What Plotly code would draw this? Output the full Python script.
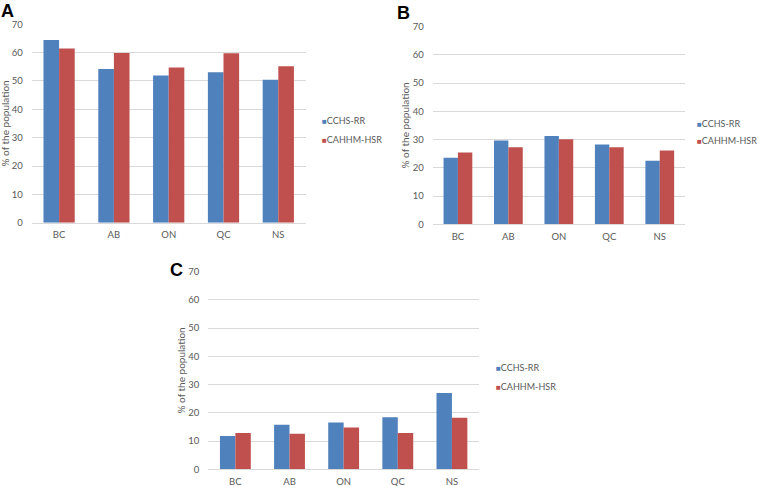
import plotly.graph_objects as go

W, H = 759, 486

provinces = ["BC", "AB", "ON", "QC", "NS"]
series_names = ["CCHS-RR", "CAHHM-HSR"]
colors = ["#4F81BD", "#C0504D"]

# panel A
a_cchs = [64.5, 54.2, 51.9, 53.1, 50.4]
a_cahhm = [61.5, 59.9, 54.8, 59.8, 55.2]
# panel B
b_cchs = [23.6, 29.7, 31.3, 28.3, 22.5]
b_cahhm = [25.4, 27.3, 30.1, 27.3, 26.1]
# panel C
c_cchs = [11.8, 15.8, 16.6, 18.4, 27.0]
c_cahhm = [12.9, 12.6, 14.8, 12.9, 18.3]

y_ticks = [0, 10, 20, 30, 40, 50, 60, 70]

FONT = "Lato, sans-serif"


def px_x(v):
    return v / W


def px_y(v):
    return 1 - v / H


# pixel boxes of each plot area: left, right, top, bottom
panels = [
    dict(label="A", data=[a_cchs, a_cahhm], box=(31.7, 305.7, 24.3, 222.7),
         lab=(7.5, 0), ytitle=5, leg=(320, 120.7, 139)),
    dict(label="B", data=[b_cchs, b_cahhm], box=(432.7, 685, 26.7, 224.3),
         lab=(404, 2), ytitle=405, leg=(695, 123.3, 140.7)),
    dict(label="C", data=[c_cchs, c_cahhm], box=(208.3, 479, 271.7, 469.3),
         lab=(176.5, 259), ytitle=180, leg=(493.5, 367.7, 386)),
]

fig = go.Figure()
layout = dict(width=W, height=H, margin=dict(l=0, r=0, t=0, b=0),
              paper_bgcolor="white", plot_bgcolor="white", showlegend=False,
              barmode="group", bargap=0.43, bargroupgap=0,
              font=dict(family=FONT, size=9.5, color="#595959"),
              annotations=[])

for i, p in enumerate(panels):
    n = "" if i == 0 else str(i + 1)
    for s in range(2):
        fig.add_trace(go.Bar(x=provinces, y=p["data"][s], name=series_names[s],
                             marker=dict(color=colors[s], line=dict(width=0)),
                             xaxis="x" + n, yaxis="y" + n))
    l, r, t, b = p["box"]
    layout["xaxis" + n] = dict(domain=[px_x(l), px_x(r)], anchor="y" + n,
                               automargin=False, showgrid=False, showline=True,
                               linecolor="#D9D9D9", ticks="", ticklabelstandoff=3)
    layout["yaxis" + n] = dict(domain=[px_y(b), px_y(t)], anchor="x" + n,
                               automargin=False, range=[0, 70], tickvals=y_ticks,
                               showgrid=True, gridcolor="#D9D9D9", zeroline=False,
                               showline=False, ticks="", ticklabelstandoff=8)
    # legend entries
    lx, ly1, ly2 = p["leg"]
    for s, ly in enumerate([ly1, ly2]):
        layout["annotations"].append(dict(
            text='<span style="color:%s;font-size:8px">■</span>%s' % (colors[s], series_names[s]),
            x=px_x(lx), y=px_y(ly), xref="paper", yref="paper", xanchor="left",
            yanchor="middle", showarrow=False, font=dict(size=9, color="#595959")))
    layout["annotations"].append(dict(
        text="% of the population", textangle=-90, x=px_x(p["ytitle"]),
        y=px_y((t + b) / 2), xref="paper", yref="paper", xanchor="center",
        yanchor="middle", showarrow=False, font=dict(size=10, color="#595959")))
    layout["annotations"].append(dict(
        text="<b>" + p["label"] + "</b>", x=px_x(p["lab"][0]), y=px_y(p["lab"][1]),
        xref="paper", yref="paper", xanchor="center", yanchor="top", borderpad=0,
        showarrow=False, font=dict(family="Liberation Sans", size=18, color="black")))

fig.update_layout(**layout)
fig.write_html("out.html", config={"displayModeBar": False},
               post_script="document.body.style.margin = '0';")
